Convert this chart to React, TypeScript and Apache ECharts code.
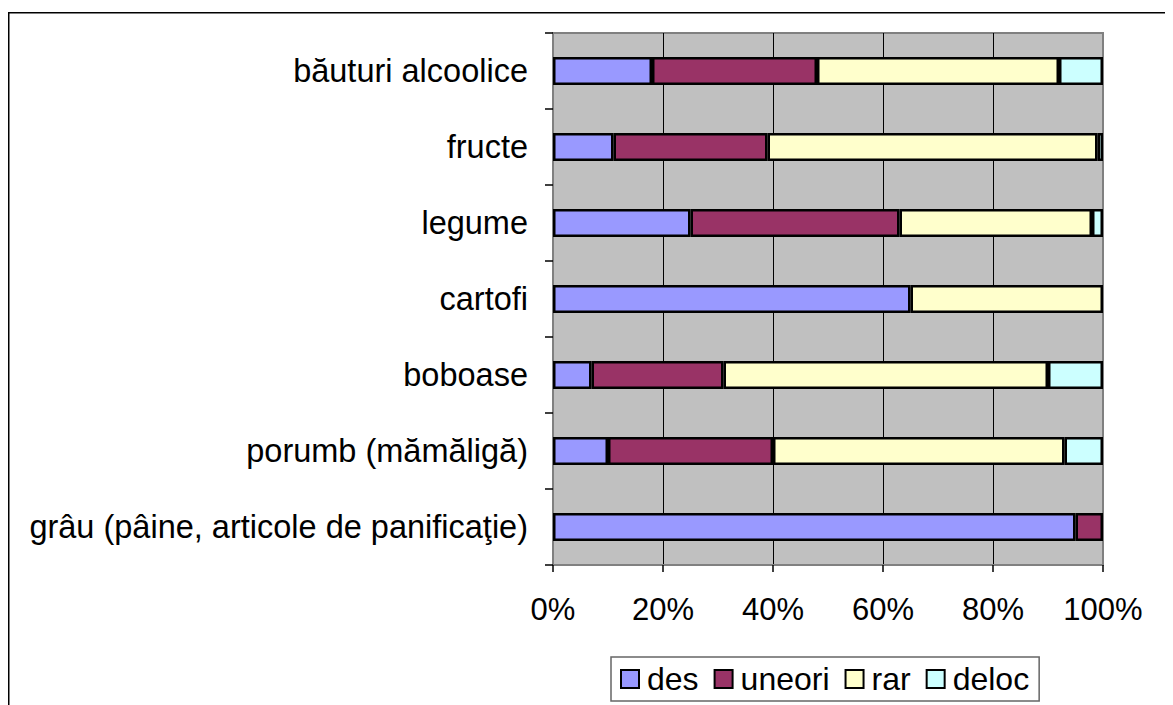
import React, { useEffect, useRef } from "react";
import * as echarts from "echarts";

const categories = [
  "grâu (pâine, articole de panificaţie)",
  "porumb (mămăligă)",
  "boboase",
  "cartofi",
  "legume",
  "fructe",
  "băuturi alcoolice",
];
const seriesNames = ["des", "uneori", "rar", "deloc"];
const desValues = [95, 10, 7, 65, 25, 11, 18];
const uneoriValues = [5, 30, 24, 0, 38, 28, 30];
const rarValues = [0, 53, 59, 35, 35, 60, 44];
const delocValues = [0, 7, 10, 0, 2, 1, 8];
const xTicks = [0, 20, 40, 60, 80, 100];
const colors = ["#9999FF", "#993366", "#FFFFCC", "#CCFFFF"];

const FONT = "'Liberation Sans', Arial, sans-serif";

export default function App() {
  const ref = useRef<HTMLDivElement>(null);
  useEffect(() => {
    if (!ref.current) return;
    const chart = echarts.init(ref.current, undefined, { renderer: "svg" });
    const all = [desValues, uneoriValues, rarValues, delocValues];
    chart.setOption({
      animation: false,
      grid: {
        left: 545,
        top: 25,
        right: 70,
        bottom: 140,
        show: true,
        backgroundColor: "#C0C0C0",
        borderColor: "#808080",
        borderWidth: 2,
      },
      legend: {
        left: 603,
        top: 649,
        orient: "horizontal",
        data: seriesNames,
        itemWidth: 18,
        itemHeight: 18,
        itemGap: 15,
        padding: [6, 10, 6, 9],
        borderColor: "#666666",
        borderWidth: 1.5,
        backgroundColor: "#FFFFFF",
        icon: "rect",
        textStyle: {
          fontFamily: FONT,
          fontSize: 32,
          color: "#000",
          padding: [0, 0, 0, 3],
        },
      },
      xAxis: {
        type: "value",
        min: xTicks[0],
        max: xTicks[xTicks.length - 1],
        interval: 20,
        axisLine: { show: true, lineStyle: { color: "#808080", width: 2 } },
        axisTick: { show: true, length: 7, lineStyle: { color: "#000", width: 1.5 } },
        axisLabel: {
          formatter: "{value}%",
          fontFamily: FONT,
          fontSize: 31,
          color: "#000",
          margin: 29,
        },
        splitLine: {
          show: true,
          showMinLine: false,
          showMaxLine: false,
          lineStyle: { color: "#000", width: 1 },
        },
      },
      yAxis: {
        type: "category",
        data: categories,
        axisLine: { show: true, lineStyle: { color: "#808080", width: 2 } },
        axisTick: { show: true, length: 8, lineStyle: { color: "#000", width: 1.5 } },
        axisLabel: {
          fontFamily: FONT,
          fontSize: 32.5,
          color: "#000",
          margin: 25,
        },
        splitLine: { show: false },
      },
      series: seriesNames.map((name, i) => ({
        name,
        type: "bar",
        stack: "total",
        barWidth: 28,
        data: all[i].map((v) => (v === 0 ? null : v)),
        itemStyle: { color: colors[i], borderColor: "#000", borderWidth: 2.5 },
      })),
      graphic: [
        {
          type: "line",
          shape: { x1: 0.75, y1: 4, x2: 0.75, y2: 700 },
          style: { stroke: "#000", lineWidth: 1.5 },
        },
        {
          type: "line",
          shape: { x1: 0, y1: 4.75, x2: 1165, y2: 4.75 },
          style: { stroke: "#000", lineWidth: 1.5 },
        },
      ],
    });
    return () => chart.dispose();
  }, []);
  return <div ref={ref} style={{ width: 1165, height: 697 }} />;
}
